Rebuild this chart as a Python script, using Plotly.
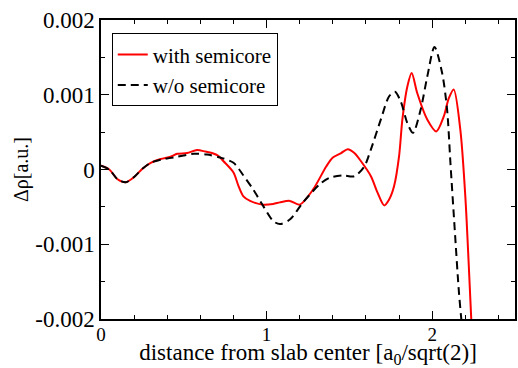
import plotly.graph_objects as go

# with semicore (red)
x_with = [0, 0.05, 0.10, 0.15, 0.20, 0.25, 0.30, 0.36, 0.42, 0.46, 0.52, 0.58, 0.63, 0.67, 0.71,
          0.74, 0.80, 0.83, 0.86, 0.90, 0.98, 1.04, 1.08, 1.14, 1.20, 1.28, 1.36, 1.40, 1.45, 1.49,
          1.53, 1.57, 1.63, 1.67, 1.71, 1.74, 1.77, 1.80, 1.82, 1.85, 1.876, 1.91, 1.97, 2.025,
          2.07, 2.10, 2.13, 2.17, 2.20, 2.22, 2.24]
y_with = [0.05, 0.0, -0.13, -0.17, -0.10, 0.01, 0.09, 0.14, 0.17, 0.21, 0.22, 0.26, 0.24, 0.22, 0.18,
          0.11, -0.04, -0.22, -0.36, -0.42, -0.47, -0.46, -0.44, -0.42, -0.47, -0.27, 0.04, 0.16, 0.22, 0.27,
          0.22, 0.11, -0.09, -0.31, -0.48, -0.40, -0.22, 0.18, 0.67, 1.11, 1.29, 1.02, 0.67, 0.51,
          0.71, 0.95, 1.07, 0.53, -0.36, -1.24, -2.2]

# w/o semicore (black dashed)
x_wo = [0, 0.05, 0.10, 0.15, 0.20, 0.25, 0.30, 0.36, 0.46, 0.56, 0.64, 0.72, 0.80, 0.86, 0.92,
        0.98, 1.04, 1.08, 1.14, 1.22, 1.32, 1.38, 1.46, 1.53, 1.59, 1.63, 1.69, 1.74, 1.775, 1.81,
        1.85, 1.884, 1.93, 1.97, 2.014, 2.06, 2.09, 2.11, 2.136, 2.16, 2.174, 2.19]
y_wo = [0.05, 0.0, -0.13, -0.17, -0.10, 0.01, 0.09, 0.13, 0.17, 0.21, 0.20, 0.16, 0.09, -0.08, -0.27,
        -0.49, -0.69, -0.73, -0.67, -0.44, -0.20, -0.11, -0.08, -0.09, 0.04, 0.27, 0.67, 0.98, 1.04, 0.91,
        0.62, 0.49, 0.80, 1.24, 1.64, 1.29, 0.80, 0.09, -0.80, -1.60, -1.96, -2.3]

x_tickvals = [0, 1, 2]
x_ticktext = ["0", "1", "2"]
y_tickvals = [-0.002, -0.001, 0, 0.001, 0.002]
y_ticktext = ["-0.002", "-0.001", "0", "0.001", "0.002"]

FONT = "Liberation Serif, Times New Roman, serif"

fig = go.Figure()
fig.add_trace(go.Scatter(x=x_with, y=[v * 1e-3 for v in y_with], mode="lines",
                         name="with semicore",
                         line=dict(color="#ff0000", width=2, shape="spline", smoothing=0.8)))
fig.add_trace(go.Scatter(x=x_wo, y=[v * 1e-3 for v in y_wo], mode="lines",
                         name="w/o semicore",
                         line=dict(color="#000000", width=2, dash="8px,5px", shape="spline", smoothing=0.8)))

axis_common = dict(showgrid=False, zeroline=False, showline=True, linecolor="black", linewidth=1.5,
                   mirror="allticks", ticks="inside", tickcolor="black", tickwidth=1.2, ticklen=8)

fig.update_xaxes(range=[0, 2.5], tickvals=x_tickvals, ticktext=x_ticktext,
                 tickfont=dict(family=FONT, size=19, color="black"), ticklabelstandoff=-3,
                 minor=dict(ticks="inside", ticklen=4, dtick=0.2, tick0=0, tickcolor="black", showgrid=False),
                 title=dict(text="distance from slab center [a<sub>0</sub>/sqrt(2)]",
                            font=dict(family=FONT, size=23, color="black"), standoff=6),
                 **axis_common)
fig.update_yaxes(range=[-0.002, 0.002], tickvals=y_tickvals, ticktext=y_ticktext,
                 tickfont=dict(family=FONT, size=23, color="black"),
                 minor=dict(ticks="inside", ticklen=4, dtick=0.0005, tick0=0, tickcolor="black", showgrid=False),
                 title=dict(text="Δρ[a.u.]", font=dict(family=FONT, size=20, color="black"), standoff=1),
                 **axis_common)

fig.update_layout(
    width=518, height=368,
    margin=dict(l=101, r=1, t=20, b=48),
    font=dict(family=FONT, color="black"),
    plot_bgcolor="white", paper_bgcolor="white",
    legend=dict(x=0.026, y=0.955, xanchor="left", yanchor="top",
                bgcolor="white", bordercolor="black", borderwidth=1,
                font=dict(family=FONT, size=21, color="black"),
                tracegroupgap=0, itemwidth=30),
    showlegend=True,
)

fig.write_html("out.html", config={"displayModeBar": False},
               post_script="document.body.style.margin='0';")
